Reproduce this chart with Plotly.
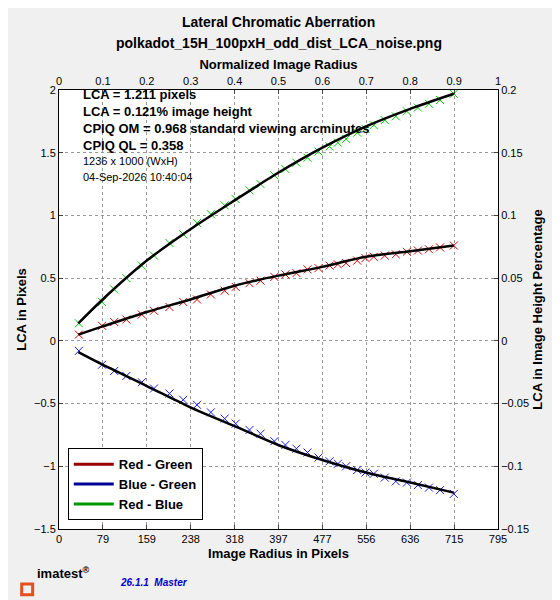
import plotly.graph_objects as go

# fitted curves (black lines)
fit_r = [35, 79, 159, 238, 318, 397, 477, 556, 636, 715]
fit_rg = [0.05, 0.115, 0.23, 0.33, 0.44, 0.52, 0.59, 0.67, 0.715, 0.76]
fit_bg = [-0.09, -0.19, -0.36, -0.53, -0.68, -0.83, -0.95, -1.05, -1.13, -1.21]
fit_rb = [0.14, 0.33, 0.64, 0.89, 1.12, 1.34, 1.54, 1.71, 1.85, 1.97]

# measured points (x markers)
pt_r = [36, 78, 100, 122, 150, 172, 200, 225, 250, 275, 300, 320, 345, 365, 390,
        410, 430, 450, 470, 490, 505, 520, 540, 555, 570, 590, 610, 630, 650, 670, 690, 715]
pt_rg = [0.05, 0.12, 0.15, 0.17, 0.21, 0.24, 0.27, 0.31, 0.33, 0.37, 0.40, 0.43, 0.46, 0.48, 0.51,
         0.53, 0.54, 0.57, 0.58, 0.60, 0.61, 0.62, 0.64, 0.66, 0.67, 0.68, 0.69, 0.71, 0.72, 0.73, 0.745, 0.76]
pt_bg = [-0.08, -0.19, -0.24, -0.28, -0.33, -0.38, -0.42, -0.47, -0.51, -0.57, -0.62, -0.66, -0.71, -0.74, -0.80,
         -0.83, -0.86, -0.89, -0.93, -0.96, -0.98, -1.00, -1.03, -1.05, -1.06, -1.09, -1.12, -1.13, -1.15, -1.17, -1.19, -1.22]
pt_rb = [0.14, 0.31, 0.41, 0.50, 0.60, 0.68, 0.78, 0.85, 0.94, 1.01, 1.08, 1.13, 1.20, 1.25, 1.32,
         1.37, 1.42, 1.46, 1.51, 1.55, 1.58, 1.61, 1.66, 1.69, 1.72, 1.76, 1.79, 1.83, 1.86, 1.89, 1.92, 1.97]

x_ticks = [0, 79.5, 159, 238.5, 318, 397.5, 477, 556.5, 636, 715.5, 795]
x_labels = ["0", "79", "159", "238", "318", "397", "477", "556", "636", "715", "795"]

F = "Liberation Sans, Arial, sans-serif"
fig = go.Figure()
for y, c in [(pt_rg, "#dd0000"), (pt_bg, "#1a1aff"), (pt_rb, "#00cc00")]:
    fig.add_trace(go.Scatter(x=pt_r, y=y, mode="markers", showlegend=False,
                             marker=dict(symbol="x-thin", size=8, line=dict(color=c, width=1))))
for y in [fit_rg, fit_bg, fit_rb]:
    fig.add_trace(go.Scatter(x=fit_r, y=y, mode="lines", showlegend=False,
                             line=dict(color="black", width=2.5, shape="spline", smoothing=0.8)))
for c, n in [("#990000", "Red - Green"), ("#000099", "Blue - Green"), ("#009900", "Red - Blue")]:
    fig.add_trace(go.Scatter(x=[None], y=[None], mode="lines", name="<b>" + n + "</b>", line=dict(color=c, width=3)))
fig.add_trace(go.Scatter(x=[0, 1], y=[-0.15, 0.2], xaxis="x2", yaxis="y2", mode="markers",
                         marker=dict(opacity=0), showlegend=False, hoverinfo="skip"))

ax = dict(showline=True, linecolor="black", linewidth=1, ticks="inside", ticklen=4, automargin=False,
          tickfont=dict(size=11, color="black"), zeroline=False)
fig.update_layout(
    width=560, height=600, paper_bgcolor="#f0f0f0", plot_bgcolor="white",
    margin=dict(l=51, r=70, t=82, b=79), font=dict(family=F, color="black"),
    xaxis=dict(ax, range=[0, 795], tickvals=x_ticks, ticktext=x_labels,
               showgrid=True, gridcolor="#999", griddash="dot",
               title=dict(text="<b>Image Radius in Pixels</b>", font=dict(size=13), standoff=4)),
    yaxis=dict(ax, range=[-1.5, 2], dtick=0.5, showgrid=True, gridcolor="#999", griddash="dot",
               title=dict(text="<b>LCA in Pixels</b>", font=dict(size=13), standoff=4)),
    xaxis2=dict(ax, range=[0, 1], dtick=0.1, overlaying="x", side="top", showgrid=False,
                title=dict(text="<b>Normalized Image Radius</b>", font=dict(size=13), standoff=2)),
    yaxis2=dict(ax, range=[-0.15, 0.2], dtick=0.05, overlaying="y", side="right", showgrid=False,
                title=dict(text="<b>LCA in Image Height Percentage</b>", font=dict(size=13), standoff=4)),
    legend=dict(x=0.02, y=0.02, xanchor="left", yanchor="bottom", bgcolor="white",
                bordercolor="black", borderwidth=1, font=dict(size=13, family=F),
                tracegroupgap=0, itemwidth=40),
)
fig.add_annotation(x=0.5, y=1, xref="paper", yref="paper", yshift=78, showarrow=False,
                   text="<b>Lateral Chromatic Aberration</b>", font=dict(size=14))
fig.add_annotation(x=0.5, y=1, xref="paper", yref="paper", yshift=57, showarrow=False,
                   text="<b>polkadot_15H_100pxH_odd_dist_LCA_noise.png</b>", font=dict(size=14))
stats = ["<b>LCA = 1.211 pixels</b>", "<b>LCA = 0.121% image height</b>",
         "<b>CPIQ OM = 0.968 standard viewing arcminutes</b>", "<b>CPIQ QL = 0.358</b>"]
for i, s in enumerate(stats):
    fig.add_annotation(x=0.05, y=1, xref="paper", yref="paper", xanchor="left", yanchor="top",
                       yshift=5 - i * 17, showarrow=False, text=s, font=dict(size=13))
for i, s in enumerate(["1236 x 1000 (WxH)", "04-Sep-2026 10:40:04"]):
    fig.add_annotation(x=0.05, y=1, xref="paper", yref="paper", xanchor="left", yanchor="top",
                       yshift=-63 - i * 16, showarrow=False, text=s, font=dict(size=11))
fig.add_shape(type="rect", xref="paper", yref="paper", x0=-0.085, x1=-0.06, y0=-0.15, y1=-0.125,
              line=dict(color="#e05020", width=3))
fig.add_annotation(x=-0.055, y=-0.123, xref="paper", yref="paper", xanchor="left", showarrow=False,
                   text="<b>imatest<sup>®</sup></b>", font=dict(size=13))
fig.add_annotation(x=0.135, y=-0.139, xref="paper", yref="paper", xanchor="left", showarrow=False,
                   text="<b><i>26.1.1  Master</i></b>", font=dict(size=10, color="#0000cc"))
fig.write_html("out.html")
